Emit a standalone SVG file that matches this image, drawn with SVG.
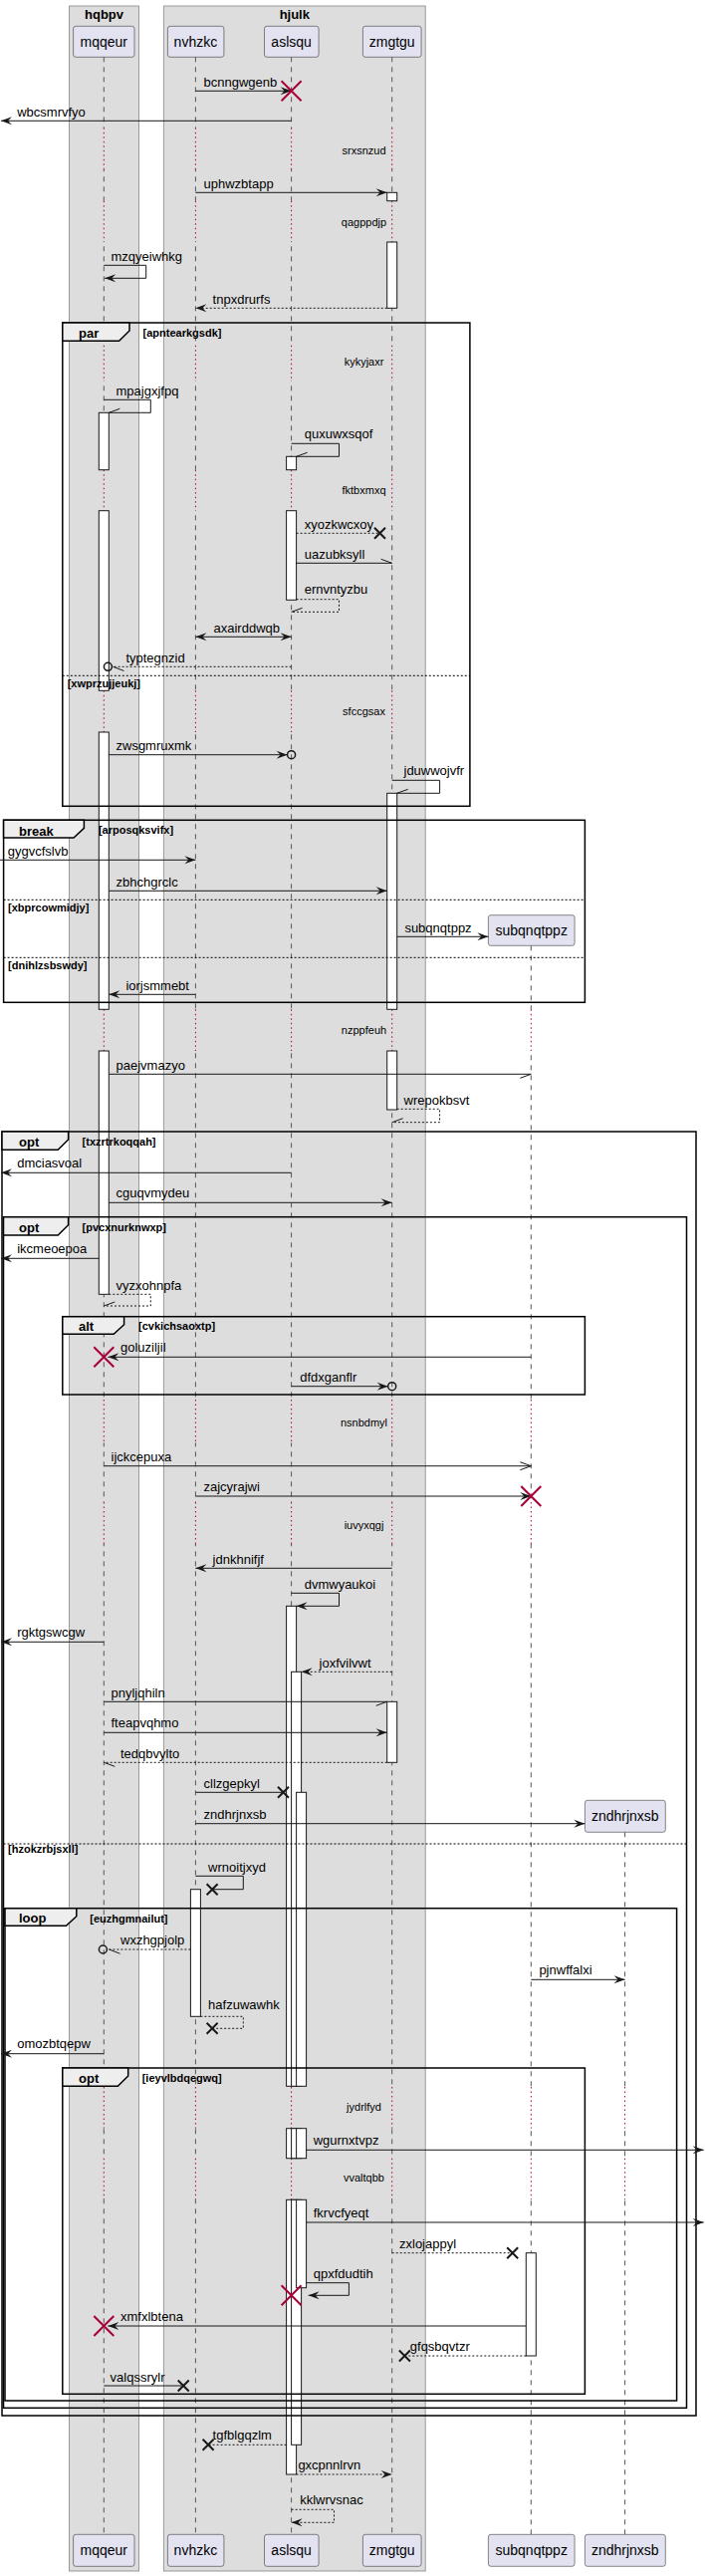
<svg xmlns="http://www.w3.org/2000/svg" width="708" height="2586" viewBox="0 0 708 2586">
<style>
text{font-family:"Liberation Sans",Arial,sans-serif;fill:#000}
.t{font-size:13px}
.dt{font-size:11px;text-anchor:middle}
.fl{font-size:11px;font-weight:bold}
.fk{font-size:13px;font-weight:bold}
.bt{font-size:13px;font-weight:bold;text-anchor:middle}
.hn{font-size:14px;text-anchor:middle}
.grp{fill:#DDDDDD;stroke:#999;stroke-width:1}
.hd{fill:#E2E2F0;stroke:#181818;stroke-width:0.5}
.ll{fill:none;stroke:#555;stroke-width:1;stroke-dasharray:5,5}
.dl{fill:none;stroke:#A80036;stroke-width:1;stroke-dasharray:1.5,3}
.act{fill:#fff;stroke:#181818;stroke-width:1}
.m{fill:none;stroke:#181818;stroke-width:1}
.md{fill:none;stroke:#181818;stroke-width:1;stroke-dasharray:2,2}
.fr{fill:none;stroke:#000;stroke-width:1.5}
.tab{fill:#EEEEEE;stroke:#000;stroke-width:1.5}
.els{fill:none;stroke:#000;stroke-width:1;stroke-dasharray:2,2}
.rx{fill:none;stroke:#A80036;stroke-width:2}
.bx{fill:none;stroke:#181818;stroke-width:2}
.ci{fill:none;stroke:#181818;stroke-width:1.5}
</style>
<defs>
<marker id="af" viewBox="0 0 11 8" refX="11" refY="4" markerWidth="11" markerHeight="8" markerUnits="userSpaceOnUse" orient="auto-start-reverse" overflow="visible"><path d="M0,0 L11,4 L0,8 L4,4 Z" fill="#181818"/></marker>
<marker id="ao" viewBox="0 0 11 8" refX="11" refY="4" markerWidth="11" markerHeight="8" markerUnits="userSpaceOnUse" orient="auto" overflow="visible"><path d="M0,0 L11,4 L0,8" fill="none" stroke="#181818" stroke-width="1"/></marker>
<marker id="ht" viewBox="0 0 11 8" refX="11" refY="4" markerWidth="11" markerHeight="8" markerUnits="userSpaceOnUse" orient="auto" overflow="visible"><path d="M0,0 L11,4" fill="none" stroke="#181818" stroke-width="1"/></marker>
<marker id="hb" viewBox="0 0 11 8" refX="11" refY="4" markerWidth="11" markerHeight="8" markerUnits="userSpaceOnUse" orient="auto" overflow="visible"><path d="M0,8 L11,4" fill="none" stroke="#181818" stroke-width="1"/></marker>
<mask id="nodelay" maskUnits="userSpaceOnUse" x="0" y="0" width="708" height="2586">
<rect x="0" y="0" width="708" height="2586" fill="#fff"/>
<g fill="#000">
<rect x="0" y="128.3" width="708" height="41.7"/>
<rect x="0" y="201.7" width="708" height="41.3"/>
<rect x="0" y="346.7" width="708" height="35"/>
<rect x="0" y="471.7" width="708" height="41"/>
<rect x="0" y="693.3" width="708" height="41.7"/>
<rect x="0" y="1013.3" width="708" height="41.7"/>
<rect x="0" y="1405" width="708" height="43.3"/>
<rect x="0" y="1508" width="708" height="42"/>
<rect x="0" y="2095" width="708" height="41.7"/>
<rect x="0" y="2166.7" width="708" height="41.6"/>
</g>
</mask>
</defs>
<rect x="0" y="0" width="708" height="2586" fill="#fff"/>

<g id="box-hqbpv"><rect class="grp" x="69.5" y="6" width="70" height="2575"/><text class="bt" x="104.5" y="18.5">hqbpv</text></g>
<g id="box-hjulk"><rect class="grp" x="164.4" y="6" width="262.8" height="2575"/><text class="bt" x="295.8" y="18.5">hjulk</text></g>

<g id="lifelines">
<path class="ll" mask="url(#nodelay)" d="M104.3,57.3 V2544.3 M196.4,57.3 V2544.3 M292.6,57.3 V2544.3 M393.7,57.3 V2544.3 M533.3,949.3 V2544.3 M627.6,1839.3 V2544.3"/>
<path class="dl" d="M104.3,128.3V170M196.4,128.3V170M292.6,128.3V170M393.7,128.3V170
M104.3,201.7V243M196.4,201.7V243M292.6,201.7V243M393.7,201.7V243
M104.3,346.7V381.7M196.4,346.7V381.7M292.6,346.7V381.7M393.7,346.7V381.7
M104.3,471.7V512.7M196.4,471.7V512.7M292.6,471.7V512.7M393.7,471.7V512.7
M104.3,693.3V735M196.4,693.3V735M292.6,693.3V735M393.7,693.3V735
M104.3,1013.3V1055M196.4,1013.3V1055M292.6,1013.3V1055M393.7,1013.3V1055M533.3,1013.3V1055
M104.3,1405V1448.3M196.4,1405V1448.3M292.6,1405V1448.3M393.7,1405V1448.3M533.3,1405V1448.3
M104.3,1508V1550M196.4,1508V1550M292.6,1508V1550M393.7,1508V1550M533.3,1508V1550
M104.3,2095V2136.7M196.4,2095V2136.7M292.6,2095V2136.7M393.7,2095V2136.7M533.3,2095V2136.7M627.6,2095V2136.7
M104.3,2166.7V2208.3M196.4,2166.7V2208.3M292.6,2166.7V2208.3M393.7,2166.7V2208.3M533.3,2166.7V2208.3M627.6,2166.7V2208.3"/>
<text class="dt" x="365.5" y="155">srxsnzud</text>
<text class="dt" x="365.5" y="226.7">qagppdjp</text>
<text class="dt" x="365.5" y="366.7">kykyjaxr</text>
<text class="dt" x="365.5" y="495.7">fktbxmxq</text>
<text class="dt" x="365.5" y="718.3">sfccgsax</text>
<text class="dt" x="365.5" y="1038.3">nzppfeuh</text>
<text class="dt" x="365.5" y="1431.7">nsnbdmyl</text>
<text class="dt" x="365.5" y="1535">iuvyxqgj</text>
<text class="dt" x="365.5" y="2119.3">jydrlfyd</text>
<text class="dt" x="365.5" y="2190">vvaltqbb</text>
</g>

<g id="mqqeur">
<rect class="hd" x="73.6" y="26.3" width="61.4" height="31" rx="2.5"/><text class="hn" x="104.3" y="46.8">mqqeur</text>
<rect class="hd" x="73.6" y="2544.3" width="61.4" height="32" rx="2.5"/><text class="hn" x="104.3" y="2565.3">mqqeur</text>
<rect class="act" x="99.3" y="414.3" width="10" height="57.4"/>
<rect class="act" x="99.3" y="512.7" width="10" height="180.6"/>
<rect class="act" x="99.3" y="735" width="10" height="278.3"/>
<rect class="act" x="99.3" y="1055" width="10" height="244.3"/>
</g>
<g id="nvhzkc">
<rect class="hd" x="168.4" y="26.3" width="56.5" height="31" rx="2.5"/><text class="hn" x="196.4" y="46.8">nvhzkc</text>
<rect class="hd" x="168.4" y="2544.3" width="56.5" height="32" rx="2.5"/><text class="hn" x="196.4" y="2565.3">nvhzkc</text>
<rect class="act" x="191.4" y="1896.7" width="10" height="127.6"/>
</g>
<g id="aslsqu">
<rect class="hd" x="265.5" y="26.3" width="54.6" height="31" rx="2.5"/><text class="hn" x="292.6" y="46.8">aslsqu</text>
<rect class="hd" x="265.5" y="2544.3" width="54.6" height="32" rx="2.5"/><text class="hn" x="292.6" y="2565.3">aslsqu</text>
<rect class="act" x="287.6" y="458.3" width="10" height="13.4"/>
<rect class="act" x="287.6" y="512.7" width="10" height="89.6"/>
<rect class="act" x="287.6" y="1612.3" width="10" height="482"/>
<rect class="act" x="287.6" y="2136.7" width="10" height="30"/>
<rect class="act" x="287.6" y="2208.3" width="10" height="275.7"/>
<rect class="act" x="292.6" y="1678.3" width="10" height="416"/>
<rect class="act" x="292.6" y="2136.7" width="10" height="30"/>
<rect class="act" x="292.6" y="2208.3" width="10" height="246"/>
<rect class="act" x="297.6" y="1799.3" width="10" height="295"/>
<rect class="act" x="297.6" y="2136.7" width="10" height="30"/>
<rect class="act" x="297.6" y="2208.3" width="10" height="88.4"/>
</g>
<g id="zmgtgu">
<rect class="hd" x="364.4" y="26.3" width="58.7" height="31" rx="2.5"/><text class="hn" x="393.7" y="46.8">zmgtgu</text>
<rect class="hd" x="364.4" y="2544.3" width="58.7" height="32" rx="2.5"/><text class="hn" x="393.7" y="2565.3">zmgtgu</text>
<rect class="act" x="388.7" y="193.3" width="10" height="8.4"/>
<rect class="act" x="388.7" y="243" width="10" height="66.3"/>
<rect class="act" x="388.7" y="796.3" width="10" height="217"/>
<rect class="act" x="388.7" y="1055" width="10" height="59"/>
<rect class="act" x="388.7" y="1708.3" width="10" height="61"/>
</g>
<g id="subqnqtppz">
<rect class="hd" x="490.4" y="918.7" width="86.7" height="30.6" rx="2.5"/><text class="hn" x="533.7" y="939">subqnqtppz</text>
<rect class="hd" x="490.4" y="2544.3" width="86.7" height="32" rx="2.5"/><text class="hn" x="533.7" y="2565.3">subqnqtppz</text>
<rect class="act" x="528.3" y="2261.7" width="10" height="103.3"/>
</g>
<g id="zndhrjnxsb">
<rect class="hd" x="587.4" y="1807.3" width="80.9" height="32" rx="2.5"/><text class="hn" x="627.8" y="1828.3">zndhrjnxsb</text>
<rect class="hd" x="587.4" y="2544.3" width="80.9" height="32" rx="2.5"/><text class="hn" x="627.8" y="2565.3">zndhrjnxsb</text>
</g>

<g id="frames">
<rect class="fr" x="62.8" y="324" width="409.1" height="485.3"/>
<path class="tab" d="M62.8,324 H130 V332 L119.6,342.3 H62.8 Z"/>
<text class="fk" x="79" y="338.5">par</text><text class="fl" x="143.6" y="338">[apntearkgsdk]</text>
<line class="els" x1="62.8" y1="678.3" x2="471.9" y2="678.3"/>
<text class="fl" x="67.7" y="689.5">[xwprzujjeukj]</text>

<rect class="fr" x="3.6" y="823.3" width="583.8" height="183"/>
<path class="tab" d="M3.6,823.3 H84.4 V831.3 L74,841 H3.6 Z"/>
<text class="fk" x="19" y="838.5">break</text><text class="fl" x="98.9" y="837">[arposqksvifx]</text>
<line class="els" x1="3.6" y1="903.3" x2="587.4" y2="903.3"/>
<text class="fl" x="8.1" y="914.5">[xbprcowmidjy]</text>
<line class="els" x1="3.6" y1="961.3" x2="587.4" y2="961.3"/>
<text class="fl" x="8.1" y="972.5">[dnihlzsbswdy]</text>

<rect class="fr" x="2" y="1136" width="697" height="1289"/>
<path class="tab" d="M2,1136 H68.6 V1144 L58.2,1154.3 H2 Z"/>
<text class="fk" x="19" y="1150.5">opt</text><text class="fl" x="82.6" y="1150">[txzrtrkoqqah]</text>

<rect class="fr" x="3.5" y="1221.7" width="686" height="1195.6"/>
<path class="tab" d="M3.5,1221.7 H68.6 V1229.7 L58.2,1240 H3.5 Z"/>
<text class="fk" x="19" y="1236.5">opt</text><text class="fl" x="82.6" y="1236">[pvcxnurknwxp]</text>
<line class="els" x1="3.5" y1="1851" x2="689.5" y2="1851"/>
<text class="fl" x="8.1" y="1860">[hzokzrbjsxll]</text>

<rect class="fr" x="62.8" y="1321.7" width="524.6" height="78.3"/>
<path class="tab" d="M62.8,1321.7 H124.6 V1329.7 L114.2,1339.3 H62.8 Z"/>
<text class="fk" x="79" y="1335.5">alt</text><text class="fl" x="139.1" y="1335">[cvkichsaoxtp]</text>

<rect class="fr" x="5" y="1915.7" width="674.6" height="494.3"/>
<path class="tab" d="M5,1915.7 H76.8 V1923.7 L66.4,1933.3 H5 Z"/>
<text class="fk" x="19" y="1930">loop</text><text class="fl" x="90.3" y="1929.5">[euzhgmnailut]</text>

<rect class="fr" x="62.8" y="2076" width="524.6" height="327.3"/>
<path class="tab" d="M62.8,2076 H128.7 V2084 L118.3,2094.3 H62.8 Z"/>
<text class="fk" x="79" y="2090.5">opt</text><text class="fl" x="142.7" y="2090">[ieyvlbdqegwq]</text>
</g>

<g id="connectors">
<path class="m" marker-end="url(#af)" d="M196.4,91.3 H292.6"/>
<path class="rx" d="M282.6,81.3 L302.6,101.3 M302.6,81.3 L282.6,101.3"/>
<text class="t" x="204.5" y="86.5">bcnngwgenb</text>
<path class="m" marker-end="url(#af)" d="M292.6,121.3 H1"/>
<text class="t" x="17.2" y="116.7">wbcsmrvfyo</text>
<path class="m" marker-end="url(#af)" d="M196.4,193.3 H388.7"/>
<text class="t" x="204.5" y="188.7">uphwzbtapp</text>
<path class="m" marker-end="url(#af)" d="M104.3,266.3 H146.7 V279.3 H105.2"/>
<text class="t" x="111.5" y="261.5">mzqyeiwhkg</text>
<path class="md" marker-end="url(#af)" d="M388.7,309.3 H196.4"/>
<text class="t" x="213.6" y="304.5">tnpxdrurfs</text>
<path class="m" marker-end="url(#hb)" d="M104.3,401.3 H151.3 V414.3 H109.3"/>
<text class="t" x="116.5" y="397">mpajgxjfpq</text>
<path class="m" marker-end="url(#hb)" d="M292.6,445.3 H340.5 V458.3 H297.6"/>
<text class="t" x="305.7" y="439.5">quxuwxsqof</text>
<path class="md" d="M297.6,535.3 H381.5"/>
<path class="bx" d="M376,529.8 L387,540.8 M387,529.8 L376,540.8"/>
<text class="t" x="305.7" y="530.5">xyozkwcxoy</text>
<path class="m" marker-end="url(#ht)" d="M297.6,565.3 H393.7"/>
<text class="t" x="305.7" y="560.5">uazubksyll</text>
<path class="md" marker-end="url(#hb)" d="M297.6,601.7 H340.5 V614.3 H292.6"/>
<text class="t" x="305.7" y="596">ernvntyzbu</text>
<path class="m" marker-start="url(#af)" marker-end="url(#af)" d="M196.4,639.3 H292.6"/>
<text class="t" x="214.5" y="634.5">axairddwqb</text>
<path class="md" d="M292.6,669.3 H112.4"/>
<circle class="ci" cx="108.4" cy="669.3" r="4"/>
<path class="m" d="M113.5,669.3 L124.5,673.5"/>
<text class="t" x="126.4" y="664.5">typtegnzid</text>
<path class="m" marker-end="url(#af)" d="M109.3,757.7 H288.6"/>
<circle class="ci" cx="292.6" cy="757.7" r="4"/>
<text class="t" x="116.5" y="752.5">zwsgmruxmk</text>
<path class="m" marker-end="url(#hb)" d="M393.7,783.3 H441.6 V796.3 H398.7"/>
<text class="t" x="405.5" y="778">jduwwojvfr</text>
<path class="m" marker-end="url(#af)" d="M0,863.3 H196.4"/>
<text class="t" x="7.7" y="858.5">gygvcfslvb</text>
<path class="m" marker-end="url(#af)" d="M109.3,894.3 H388.7"/>
<text class="t" x="116.5" y="889.5">zbhchgrclc</text>
<path class="m" marker-end="url(#af)" d="M398.7,940.3 H490.4"/>
<text class="t" x="406.4" y="935.5">subqnqtppz</text>
<path class="m" marker-end="url(#af)" d="M196.4,998.3 H109.3"/>
<text class="t" x="126.4" y="993.5">iorjsmmebt</text>
<path class="m" marker-end="url(#hb)" d="M109.3,1078.3 H533.3"/>
<text class="t" x="116.5" y="1073.5">paejvmazyo</text>
<path class="md" marker-end="url(#hb)" d="M398.7,1113.3 H441.6 V1126.7 H393.7"/>
<text class="t" x="405.5" y="1108.5">wrepokbsvt</text>
<path class="m" marker-end="url(#af)" d="M292.6,1177.3 H1"/>
<text class="t" x="17.2" y="1172">dmciasvoal</text>
<path class="m" marker-end="url(#af)" d="M109.3,1207.3 H393.7"/>
<text class="t" x="116.5" y="1202">cguqvmydeu</text>
<path class="m" marker-end="url(#af)" d="M99.3,1263.3 H1"/>
<text class="t" x="17.2" y="1258">ikcmeoepoa</text>
<path class="md" marker-end="url(#hb)" d="M109.3,1299.3 H151.3 V1311 H104.3"/>
<text class="t" x="116.5" y="1294.5">vyzxohnpfa</text>
<path class="m" marker-end="url(#af)" d="M533.3,1362.3 H108.4"/>
<path class="rx" d="M94.3,1352.3 L114.3,1372.3 M114.3,1352.3 L94.3,1372.3"/>
<text class="t" x="121" y="1357">goluziljil</text>
<path class="m" marker-end="url(#af)" d="M292.6,1391.7 H389.7"/>
<circle class="ci" cx="393.7" cy="1391.7" r="4"/>
<text class="t" x="301.2" y="1387">dfdxganflr</text>
<path class="m" marker-end="url(#ao)" d="M104.3,1471.7 H533.3"/>
<text class="t" x="111.5" y="1466.5">ijckcepuxa</text>
<path class="m" marker-end="url(#af)" d="M196.4,1502 H533.3"/>
<path class="rx" d="M523.3,1492 L543.3,1512 M543.3,1492 L523.3,1512"/>
<text class="t" x="204.5" y="1497">zajcyrajwi</text>
<path class="m" marker-end="url(#af)" d="M393.7,1574.3 H196.4"/>
<text class="t" x="213.6" y="1569.5">jdnkhnifjf</text>
<path class="m" marker-end="url(#af)" d="M292.6,1599.3 H340.5 V1612.3 H297.6"/>
<text class="t" x="305.7" y="1594.5">dvmwyaukoi</text>
<path class="m" marker-end="url(#af)" d="M104.3,1648.3 H1"/>
<text class="t" x="17.2" y="1643">rgktgswcgw</text>
<path class="md" marker-end="url(#af)" d="M393.7,1678.3 H302.6"/>
<text class="t" x="320.6" y="1673.5">joxfvilvwt</text>
<path class="m" marker-end="url(#hb)" d="M104.3,1708.3 H388.7"/>
<text class="t" x="111.5" y="1703.5">pnyljqhiln</text>
<path class="m" marker-end="url(#af)" d="M104.3,1739.3 H388.7"/>
<text class="t" x="111.5" y="1734">fteapvqhmo</text>
<path class="md" marker-end="url(#ht)" d="M388.7,1769.3 H104.3"/>
<text class="t" x="121" y="1764.5">tedqbvylto</text>
<path class="m" d="M196.4,1799.3 H284.5"/>
<path class="bx" d="M279,1793.8 L290,1804.8 M290,1793.8 L279,1804.8"/>
<text class="t" x="204.5" y="1794.5">cllzgepkyl</text>
<path class="m" marker-end="url(#af)" d="M196.4,1830.7 H587.4"/>
<text class="t" x="204.5" y="1825.5">zndhrjnxsb</text>
<path class="m" d="M196.4,1883.3 H244.3 V1896.7 H213.1"/>
<path class="bx" d="M207.6,1891.2 L218.6,1902.2 M218.6,1891.2 L207.6,1902.2"/>
<text class="t" x="209.1" y="1878.5">wrnoitjxyd</text>
<path class="md" d="M191.4,1957 H107.4"/>
<circle class="ci" cx="103.4" cy="1957" r="4"/>
<path class="m" d="M109.5,1957 L120.5,1961.2"/>
<text class="t" x="121" y="1952">wxzhgpjolp</text>
<path class="m" marker-end="url(#af)" d="M533.3,1987.3 H627.6"/>
<text class="t" x="541.4" y="1982">pjnwffalxi</text>
<path class="md" d="M201.4,2024.3 H244.3 V2036.3 H213.1"/>
<path class="bx" d="M207.6,2030.8 L218.6,2041.8 M218.6,2030.8 L207.6,2041.8"/>
<text class="t" x="209.1" y="2017">hafzuwawhk</text>
<path class="m" marker-end="url(#af)" d="M104.3,2061.7 H1"/>
<text class="t" x="17.2" y="2056">omozbtqepw</text>
<path class="m" marker-end="url(#af)" d="M307.6,2158.3 H706.7"/>
<text class="t" x="314.7" y="2153">wgurnxtvpz</text>
<path class="m" marker-end="url(#af)" d="M307.6,2231 H706.7"/>
<text class="t" x="314.7" y="2226">fkrvcfyeqt</text>
<path class="md" d="M393.7,2261.7 H514.7"/>
<path class="bx" d="M509.2,2256.2 L520.2,2267.2 M520.2,2256.2 L509.2,2267.2"/>
<text class="t" x="401" y="2256.5">zxlojappyl</text>
<path class="m" marker-end="url(#af)" d="M307.6,2291.7 H350.4 V2304.3 H309.7"/>
<path class="rx" d="M282.6,2294.3 L302.6,2314.3 M302.6,2294.3 L282.6,2314.3"/>
<text class="t" x="314.7" y="2286.5">qpxfdudtih</text>
<path class="m" marker-end="url(#af)" d="M528.3,2335 H108.4"/>
<path class="rx" d="M94.3,2325 L114.3,2345 M114.3,2325 L94.3,2345"/>
<text class="t" x="121" y="2329.5">xmfxlbtena</text>
<path class="md" d="M528.3,2365 H406.4"/>
<path class="bx" d="M400.9,2359.5 L411.9,2370.5 M411.9,2359.5 L400.9,2370.5"/>
<text class="t" x="411.8" y="2360">gfqsbqvtzr</text>
<path class="m" d="M104.3,2395 H184.2"/>
<path class="bx" d="M178.7,2389.5 L189.7,2400.5 M189.7,2389.5 L178.7,2400.5"/>
<text class="t" x="110.6" y="2390.5">valqssrylr</text>
<path class="md" d="M287.6,2454.3 H209.1"/>
<path class="bx" d="M203.6,2448.8 L214.6,2459.8 M214.6,2448.8 L203.6,2459.8"/>
<text class="t" x="213.6" y="2448.5">tgfblgqzlm</text>
<path class="md" marker-end="url(#af)" d="M297.6,2484 H393.7"/>
<text class="t" x="299.4" y="2478.5">gxcpnnlrvn</text>
<path class="md" marker-end="url(#af)" d="M292.6,2519.3 H335.5 V2532.3 H292.6"/>
<text class="t" x="301.2" y="2514">kklwrvsnac</text>
</g>
</svg>
